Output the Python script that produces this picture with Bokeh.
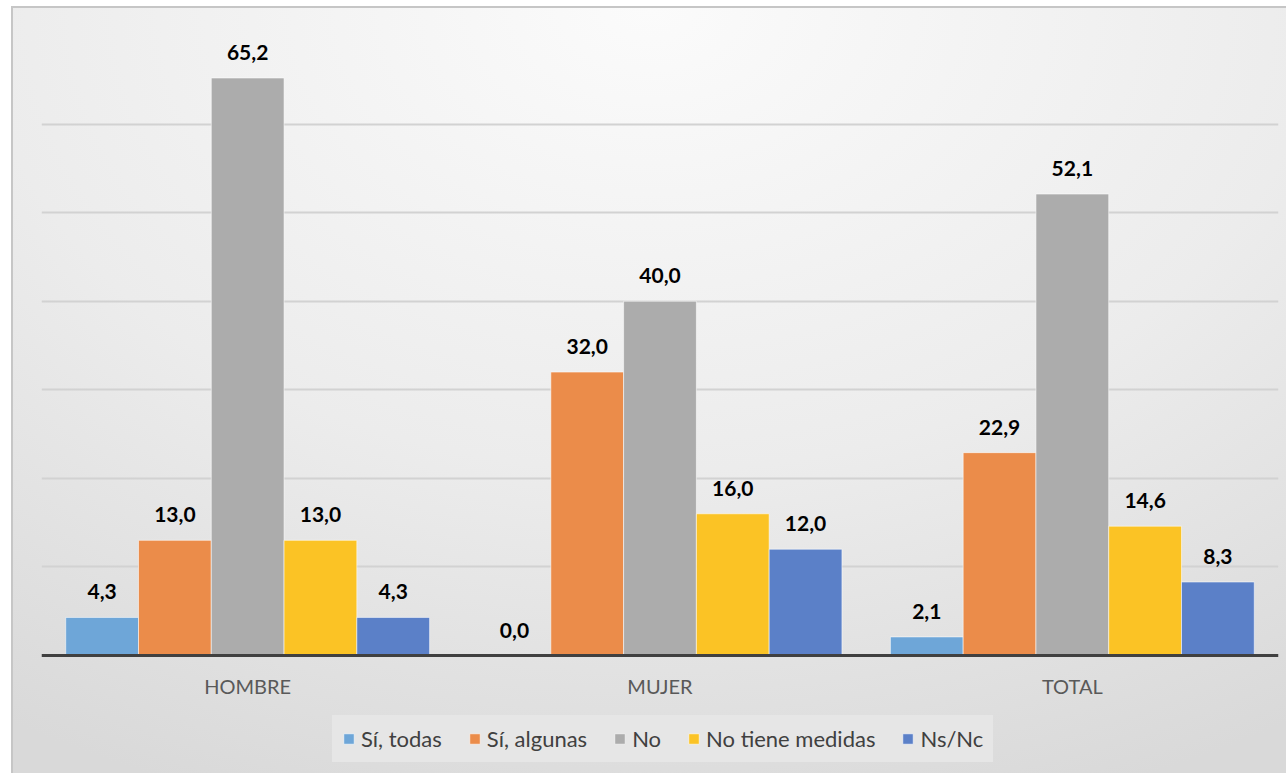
from bokeh.plotting import figure
from bokeh.models import (ColumnDataSource, FactorRange, Range1d, FixedTicker,
                          Legend, LegendItem)
from bokeh.transform import dodge
from bokeh.core.properties import value
from bokeh.embed import file_html
from bokeh.resources import INLINE

# Data
categories = ["HOMBRE", "MUJER", "TOTAL"]
series = ["Sí, todas", "Sí, algunas", "No", "No tiene medidas", "Ns/Nc"]
si_todas = [4.3, 0.0, 2.1]
si_algunas = [13.0, 32.0, 22.9]
no = [65.2, 40.0, 52.1]
no_tiene_medidas = [13.0, 16.0, 14.6]
ns_nc = [4.3, 12.0, 8.3]
values = [si_todas, si_algunas, no, no_tiene_medidas, ns_nc]
colors = ["#6ea6d8", "#eb8c4a", "#acacac", "#fbc325", "#5b80c8"]

FONT = "Lato"
BAR_W = 0.1765
PX_PER_UNIT = 620 / 70          # vertical scale of the value axis
BOTTOM_PX = 118                 # room under the zero line for labels and legend

p = figure(
    frame_width=1237, frame_height=620 + BOTTOM_PX,
    x_range=FactorRange(*categories, range_padding=0),
    y_range=Range1d(-BOTTOM_PX / PX_PER_UNIT, 70),
    output_backend="svg", toolbar_location=None,
    min_border_left=28, min_border_right=8,
    min_border_top=27, min_border_bottom=0,
)
p.styles = {
    "margin-left": "11px",
    "margin-top": "6px",
    "border-left": "2px solid #c6c6c6",
    "border-top": "2px solid #c6c6c6",
    "background": "radial-gradient(ellipse 95% 110% at 50% 0%, #fbfbfb 0%, #ececec 55%, #d9d9d9 100%)",
}
p.background_fill_alpha = 0
p.border_fill_alpha = 0
p.outline_line_color = None

# Axes and grid
p.yaxis.visible = False
p.ygrid.ticker = FixedTicker(ticks=[10, 20, 30, 40, 50, 60, 70])
p.ygrid.grid_line_color = "#d2d2d2"
p.ygrid.grid_line_width = 2
p.xgrid.grid_line_color = None

xa = p.xaxis[0]
xa.fixed_location = 0
xa.axis_line_color = "#404040"
xa.axis_line_width = 3
xa.major_tick_line_color = None
xa.minor_tick_line_color = None
xa.major_label_standoff = 12
xa.major_label_text_font = FONT
xa.major_label_text_font_size = "20px"
xa.major_label_text_color = "#595959"

# Bars and value labels
items = []
for i, (name, vals, col) in enumerate(zip(series, values, colors)):
    off = (i - 2) * BAR_W
    src = ColumnDataSource(dict(
        cat=categories, val=vals,
        lab=[f"{v:.1f}".replace(".", ",") for v in vals],
    ))
    r = p.vbar(x=dodge("cat", off, range=p.x_range), top="val", bottom=0,
               width=BAR_W, source=src, fill_color=col, line_color="white",
               line_alpha=0.55, line_width=1)
    p.text(x=dodge("cat", off, range=p.x_range), y="val", text="lab", source=src,
           text_font=value(FONT), text_font_style="bold", text_font_size="21px",
           text_color="#000000", text_align="center", text_baseline="bottom",
           y_offset=-18)
    items.append(LegendItem(label=name, renderers=[r]))

# Legend box sits below the category labels
legend = Legend(items=items, orientation="horizontal", location=(291, 11),
                label_text_font=FONT, label_text_font_size="22px",
                label_text_color="#404040", glyph_width=13, glyph_height=13,
                spacing=26, label_standoff=6,
                background_fill_color="#e6e6e6", background_fill_alpha=1,
                border_line_alpha=0, padding=10, margin=0)
p.add_layout(legend, "center")

open("out.html", "w").write(file_html(p, INLINE))
